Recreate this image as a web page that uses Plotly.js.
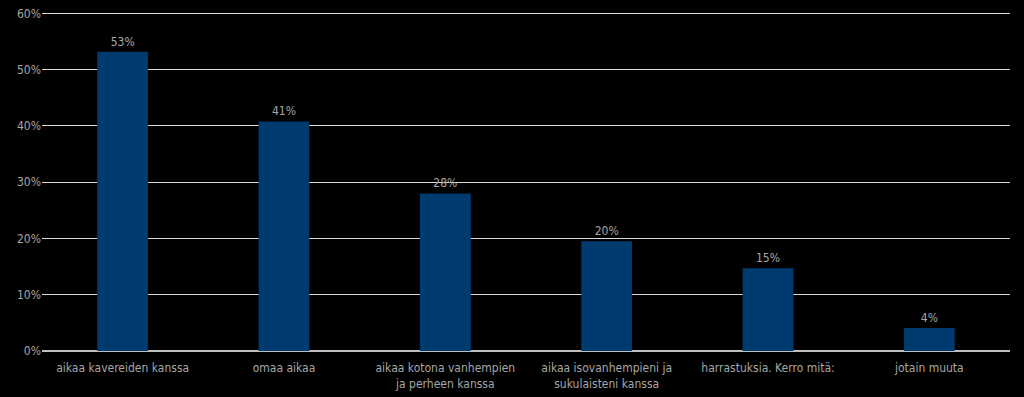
<!DOCTYPE html>
<html>
<head>
<meta charset="utf-8">
<script src="https://cdn.plot.ly/plotly-3.0.1.min.js"></script>
<style>html,body{margin:0;padding:0;background:#000;}#chart{width:1024px;height:397px;}</style>
</head>
<body>
<div id="chart"></div>
<script>
var categories = [
  "aikaa kavereiden kanssa",
  "omaa aikaa",
  "aikaa kotona vanhempien<br>ja perheen kanssa",
  "aikaa isovanhempieni ja<br>sukulaisteni kanssa",
  "harrastuksia. Kerro mitä:",
  "jotain muuta"
];
var values = [53.2, 40.8, 28.0, 19.5, 14.7, 4.1];
var yTicks = [0, 10, 20, 30, 40, 50, 60];
var yTickLabels = ["0%", "10%", "20%", "30%", "40%", "50%", "60%"];

var font = "'DejaVu Sans Condensed', 'DejaVu Sans', sans-serif";
Plotly.newPlot("chart", [{
  type: "bar",
  x: categories,
  y: values,
  marker: {color: "#003b70"},
  text: values.map(function(v){ return Math.round(v) + "%"; }),
  textposition: "outside",
  textfont: {family: font, size: 12, color: "#a6a6a6"},
  cliponaxis: false,
  hoverinfo: "none"
}], {
  width: 1024, height: 397,
  paper_bgcolor: "#000", plot_bgcolor: "#000",
  margin: {l: 42, r: 14, t: 10, b: 46},
  bargap: 0.685,
  showlegend: false,
  font: {family: font, size: 12, color: "#a6a6a6"},
  xaxis: {
    tickfont: {family: font, size: 12, color: "#a6a6a6"},
    ticklabelstandoff: 8,
    showgrid: false, showline: false, ticks: "", fixedrange: true
  },
  yaxis: {
    range: [0, 60.6],
    tickvals: yTicks, ticktext: yTickLabels,
    showgrid: true, gridcolor: "#d9d9d9", gridwidth: 1,
    zeroline: true, zerolinecolor: "#bfbfbf", zerolinewidth: 2,
    showline: false, ticks: "", ticklen: 0,
    tickfont: {family: font, size: 12, color: "#a6a6a6"}
  }
}, {staticPlot: true});
</script>
</body>
</html>
